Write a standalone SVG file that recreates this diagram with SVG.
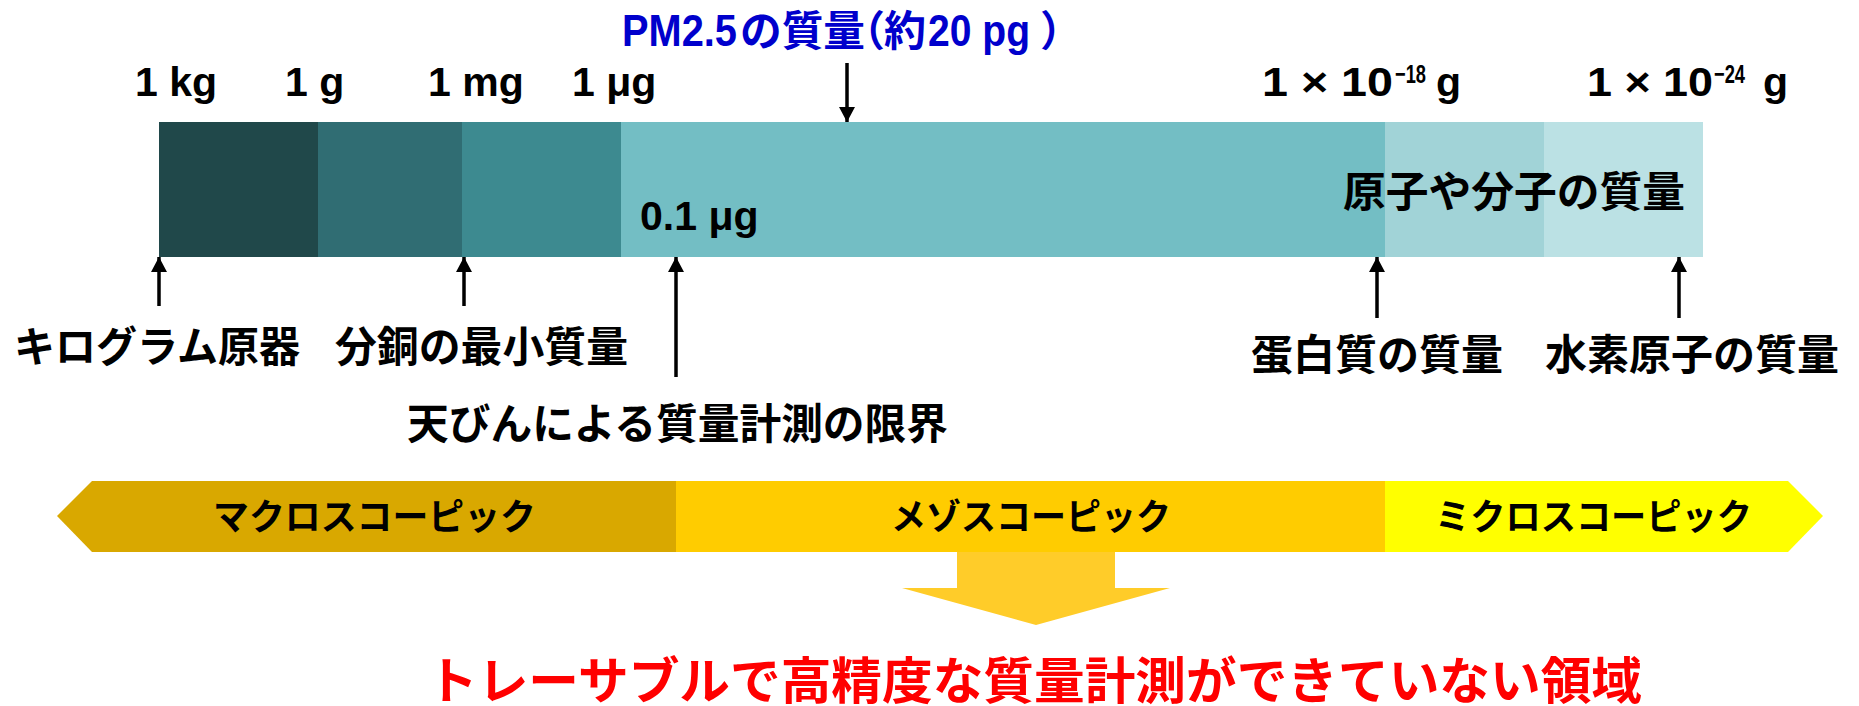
<svg xmlns="http://www.w3.org/2000/svg" width="1859" height="706" viewBox="0 0 1859 706">
<style>
.lat{font-family:"Liberation Sans",Arial,sans-serif;font-weight:bold;fill:#000}
.jp{font-family:"Noto Sans CJK JP","Liberation Sans",sans-serif;font-weight:bold;fill:#000}
.blue-lat{font-family:"Liberation Sans",Arial,sans-serif;font-weight:bold;fill:#0000CC}
.blue-jp{font-family:"Noto Sans CJK JP","Liberation Sans",sans-serif;font-weight:bold;fill:#0000CC}
.conn{stroke:#000;stroke-width:3.5;fill:none}
</style>
<defs>
<marker id="ah" markerUnits="userSpaceOnUse" markerWidth="16" markerHeight="18" refX="15" refY="8" orient="auto">
<path d="M0,0 L15,8 L0,16 Z" fill="#000"/>
</marker>
</defs>
<rect width="1859" height="706" fill="#fff"/>

<g id="scale-bar">
<rect x="159" y="122" width="159" height="135" fill="#20484A"/>
<rect x="318" y="122" width="144" height="135" fill="#306D73"/>
<rect x="462" y="122" width="159" height="135" fill="#3D8A90"/>
<rect x="621" y="122" width="764" height="135" fill="#73BEC4"/>
<rect x="1385" y="122" width="159" height="135" fill="#A1D3D7"/>
<rect x="1544" y="122" width="159" height="135" fill="#BBE1E4"/>
</g>

<g id="scale-labels">
<text class="lat" x="135" y="96" font-size="41">1 kg</text>
<text class="lat" x="285" y="96" font-size="41">1 g</text>
<text class="lat" x="428" y="96" font-size="41">1 mg</text>
<text class="lat" x="572" y="96" font-size="41">1 μg</text>
<text class="lat" x="1262" y="96" font-size="41" textLength="131" lengthAdjust="spacingAndGlyphs">1 × 10</text>
<text class="lat" x="1395" y="83" font-size="26" textLength="31" lengthAdjust="spacingAndGlyphs">−18</text>
<text class="lat" x="1436" y="96" font-size="41">g</text>
<text class="lat" x="1587" y="96" font-size="41" textLength="126" lengthAdjust="spacingAndGlyphs">1 × 10</text>
<text class="lat" x="1714" y="83" font-size="26" textLength="31" lengthAdjust="spacingAndGlyphs">−24</text>
<text class="lat" x="1763" y="96" font-size="41">g</text>
<text class="lat" x="640" y="230" font-size="41">0.1 μg</text>
</g>

<g id="pm25">
<text class="blue-lat" x="622" y="46" font-size="44" textLength="115" lengthAdjust="spacingAndGlyphs">PM2.5</text>
<text class="blue-jp" x="740" y="46" font-size="42" textLength="125" lengthAdjust="spacingAndGlyphs">の質量</text>
<text class="blue-jp" x="843" y="46" font-size="42">（</text>
<text class="blue-jp" x="884" y="46" font-size="42">約</text>
<text class="blue-lat" x="928" y="46" font-size="44" textLength="102" lengthAdjust="spacingAndGlyphs">20 pg</text>
<text class="blue-jp" x="1040" y="46" font-size="42">）</text>
</g>

<g id="atom-molecule">
<text class="jp" x="1343" y="207" font-size="42" textLength="342" lengthAdjust="spacingAndGlyphs">原子や分子の質量</text>
</g>

<g id="kilogram">
<text class="jp" x="14" y="362" font-size="42" textLength="286" lengthAdjust="spacingAndGlyphs">キログラム原器</text>
</g>
<g id="weight-min">
<text class="jp" x="335" y="362" font-size="42" textLength="293" lengthAdjust="spacingAndGlyphs">分銅の最小質量</text>
</g>
<g id="balance-limit">
<text class="jp" x="407" y="439" font-size="42" textLength="541" lengthAdjust="spacingAndGlyphs">天びんによる質量計測の限界</text>
</g>
<g id="protein">
<text class="jp" x="1251" y="370" font-size="42" textLength="252" lengthAdjust="spacingAndGlyphs">蛋白質の質量</text>
</g>
<g id="hydrogen">
<text class="jp" x="1545" y="370" font-size="42" textLength="294" lengthAdjust="spacingAndGlyphs">水素原子の質量</text>
</g>

<g id="connectors">
<line class="conn" x1="847" y1="63" x2="847" y2="122" marker-end="url(#ah)"/>
<line class="conn" x1="159" y1="306" x2="159" y2="257" marker-end="url(#ah)"/>
<line class="conn" x1="464" y1="306" x2="464" y2="257" marker-end="url(#ah)"/>
<line class="conn" x1="676" y1="377" x2="676" y2="257" marker-end="url(#ah)"/>
<line class="conn" x1="1377" y1="318" x2="1377" y2="257" marker-end="url(#ah)"/>
<line class="conn" x1="1679" y1="318" x2="1679" y2="257" marker-end="url(#ah)"/>
</g>

<g id="macroscopic">
<polygon points="57,516 92,481 676,481 676,552 92,552" fill="#D9A800"/>
<text class="jp" x="213" y="530" font-size="36" textLength="323" lengthAdjust="spacingAndGlyphs">マクロスコーピック</text>
</g>
<g id="mesoscopic">
<rect x="676" y="481" width="709" height="71" fill="#FFCC00"/>
<text class="jp" x="891" y="530" font-size="36" textLength="280" lengthAdjust="spacingAndGlyphs">メゾスコーピック</text>
</g>
<g id="microscopic">
<polygon points="1385,481 1788,481 1823,516 1788,552 1385,552" fill="#FFFF00"/>
<text class="jp" x="1435" y="530" font-size="36" textLength="317" lengthAdjust="spacingAndGlyphs">ミクロスコーピック</text>
</g>

<g id="down-arrow">
<polygon points="957,552 1115,552 1115,588 1170,588 1036,625 902,588 957,588" fill="#FFCC29"/>
</g>

<g id="conclusion">
<text x="427" y="699" font-size="50" fill="#FF0000" font-weight="bold" font-family="Noto Sans CJK JP,sans-serif" textLength="1215" lengthAdjust="spacingAndGlyphs">トレーサブルで高精度な質量計測ができていない領域</text>
</g>
</svg>
